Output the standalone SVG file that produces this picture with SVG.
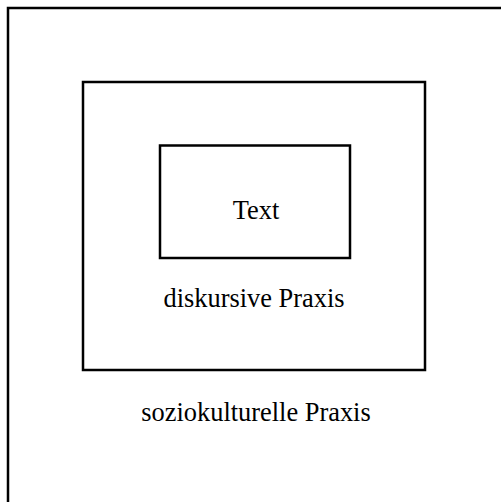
<svg xmlns="http://www.w3.org/2000/svg" width="501" height="502" viewBox="0 0 501 502">
<style>
.box{fill:none;stroke:#000;stroke-width:2.5}
.lbl{font-family:"Liberation Serif","Times New Roman",serif;font-size:26.4px;fill:#000;text-anchor:middle}
</style>
<rect width="501" height="502" fill="#fff"/>
<g id="soziokulturelle">
<rect class="box" x="8" y="8" width="520" height="520"/>
<text class="lbl" x="256" y="421">soziokulturelle Praxis</text>
</g>
<g id="diskursive">
<rect class="box" x="83" y="82" width="342" height="288"/>
<text class="lbl" x="254" y="306.5">diskursive Praxis</text>
</g>
<g id="text">
<rect class="box" x="160" y="145.5" width="190" height="112.5"/>
<text class="lbl" x="256" y="219">Text</text>
</g>
<g id="connectors"/>
</svg>
